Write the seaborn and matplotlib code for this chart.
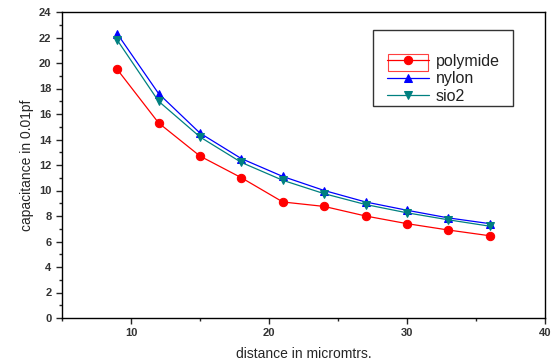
import matplotlib
matplotlib.use("Agg")
import matplotlib.pyplot as plt
import seaborn as sns
import pandas as pd
from matplotlib.ticker import MultipleLocator
from matplotlib.patches import Rectangle

distance = [9, 12, 15, 18, 21, 24, 27, 30, 33, 36]
polymide = [19.5, 15.3, 12.7, 11.0, 9.1, 8.75, 8.0, 7.4, 6.9, 6.45]
nylon = [22.3, 17.6, 14.5, 12.5, 11.1, 10.0, 9.1, 8.45, 7.85, 7.4]
sio2 = [21.8, 17.0, 14.2, 12.2, 10.8, 9.75, 8.9, 8.25, 7.7, 7.2]

sns.set_style("white")
plt.rcParams['font.family'] = ['Liberation Sans', 'DejaVu Sans']

fig = plt.figure(figsize=(5.51, 3.64), dpi=100)
ax = fig.add_axes([62/551, 1-318/364, (545-62)/551, (318-12)/364])

series = [("polymide", polymide, "#ff0000", "o"),
          ("nylon", nylon, "#0000ff", "^"),
          ("sio2", sio2, "#008080", "v")]
for name, vals, col, mk in series:
    df = pd.DataFrame({"x": distance, "y": vals})
    sns.lineplot(data=df, x="x", y="y", ax=ax, color=col, marker=mk,
                 markersize=6, markeredgecolor=col, linewidth=0.9, label=name)

ax.set_xlim(5, 40)
ax.set_ylim(0, 24)
ax.xaxis.set_major_locator(MultipleLocator(10))
ax.xaxis.set_minor_locator(MultipleLocator(5))
ax.yaxis.set_major_locator(MultipleLocator(2))
ax.yaxis.set_minor_locator(MultipleLocator(1))
ax.tick_params(which="major", direction="out", length=4, width=1, labelsize=8,
               bottom=True, left=True, top=False, right=False)
ax.tick_params(which="minor", direction="out", length=2.5, width=1,
               bottom=True, left=True, top=False, right=False)
for lbl in ax.get_xticklabels() + ax.get_yticklabels():
    lbl.set_fontweight("bold")
    lbl.set_color("#333333")
for s in ax.spines.values():
    s.set_color("black")
    s.set_linewidth(1)

ax.set_xlabel("distance in micromtrs.", fontsize=10, labelpad=6)
ax.set_ylabel("capacitance in 0.01pf", fontsize=10, labelpad=4)

# legend frame (drawn separately, entries sit low in the box)
W, H = 483, 306
ax.add_patch(Rectangle(((373-62)/W, 1-(106-12)/H), 140/W, 76/H,
                       transform=ax.transAxes, fill=False, edgecolor="#333333",
                       linewidth=1, zorder=5))
ax.add_patch(Rectangle(((388-62)/W, 1-(71-12)/H), 40/W, 17/H,
                       transform=ax.transAxes, fill=False, edgecolor="#ff4040",
                       linewidth=0.8, zorder=5))
leg = ax.legend(loc="upper left", bbox_to_anchor=((387-62)/W, 1-(54-12)/H),
                frameon=False, handlelength=2.6, handletextpad=0.45,
                borderpad=0, borderaxespad=0, labelspacing=0.15,
                prop={"size": 11.5})
for t in leg.get_texts():
    t.set_color("#222222")

fig.savefig("out.png", dpi=100)
